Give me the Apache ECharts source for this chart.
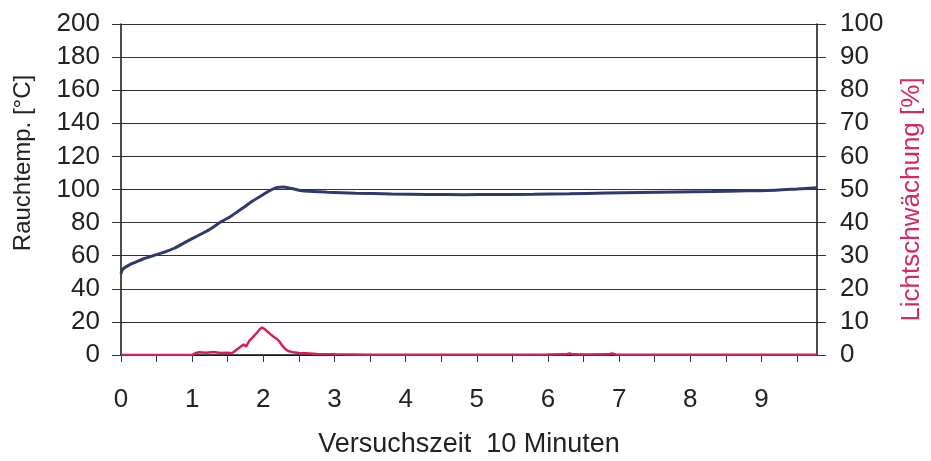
<!DOCTYPE html>
<html>
<head>
<meta charset="utf-8">
<script src="https://cdn.jsdelivr.net/npm/echarts@6/dist/echarts.min.js"></script>
<style>
html,body{margin:0;padding:0;background:#fff;}
#chart{width:931px;height:461px;}
</style>
</head>
<body>
<div id="chart"></div>
<script>
// Time axis (minutes)
const xTickValues = [0,0.5,1,1.5,2,2.5,3,3.5,4,4.5,5,5.5,6,6.5,7,7.5,8,8.5,9,9.5];
const xLabelValues = [0,1,2,3,4,5,6,7,8,9];

// Rauchtemp. [°C] (left axis)
const tempTime = [0,0.02,0.06,0.12,0.2,0.31,0.45,0.6,0.75,0.92,1.1,1.25,1.39,1.55,1.7,1.85,2.0,2.12,2.2,2.28,2.38,2.5,2.65,2.9,3.3,3.8,4.3,4.8,5.3,5.8,6.3,6.8,7.3,7.8,8.3,8.8,9.2,9.5,9.78];
const tempValues = [49,51.5,53,54.5,56,58,60,62,64.5,68.5,72.5,76,80,84,88.5,93,97,100,101.3,101.5,100.8,99.6,98.9,98.4,97.8,97.3,97,96.9,97,97.1,97.4,97.9,98.2,98.5,98.8,99.2,99.6,100.3,101];

// Lichtschwächung [%] (right axis)
const lightTime = [0,0.5,1.0,1.05,1.1,1.2,1.3,1.4,1.5,1.56,1.62,1.68,1.72,1.76,1.8,1.85,1.9,1.95,1.98,2.02,2.06,2.1,2.14,2.18,2.22,2.26,2.3,2.35,2.42,2.5,2.6,2.75,3.0,3.5,4.0,4.5,5.0,5.5,6.0,6.25,6.3,6.35,6.5,6.85,6.9,6.95,7.5,8.0,8.5,9.0,9.5,9.78];
const lightValues = [0,0,0,0.6,0.8,0.7,0.9,0.6,0.7,0.5,1.5,2.5,3.2,2.6,4.2,5.3,6.5,7.8,8.3,7.8,7.0,6.3,5.6,5.0,4.2,3.0,2.0,1.2,0.8,0.6,0.5,0.3,0.2,0.1,0.1,0.1,0.1,0.1,0.15,0.2,0.5,0.2,0.15,0.2,0.5,0.15,0.1,0.1,0.1,0.1,0.1,0.1];

const tempData = tempTime.map((t,i)=>[t,tempValues[i]]);
const lightData = lightTime.map((t,i)=>[t,lightValues[i]]);

const FONT = '"Liberation Sans", Arial, sans-serif';
const TXT = '#222';
const chart = echarts.init(document.getElementById('chart'), null, {renderer:'canvas'});
chart.setOption({
  animation:false,
  backgroundColor:'#fff',
  grid:{left:121,right:114,top:24,bottom:106,containLabel:false,outerBoundsMode:'none'},
  xAxis:{
    type:'value',min:0,max:9.78,interval:0.5,
    name:'Versuchszeit  10 Minuten',nameLocation:'middle',nameGap:76,
    nameTextStyle:{fontSize:27,color:TXT,fontFamily:FONT},
    axisLine:{show:true,onZero:false,lineStyle:{color:'#111',width:1.5}},
    axisTick:{show:true,length:7,customValues:xTickValues,lineStyle:{color:'#333',width:1}},
    axisLabel:{customValues:xLabelValues,fontSize:26,color:TXT,fontFamily:FONT,margin:32},
    splitLine:{show:false}
  },
  yAxis:[{
    type:'value',position:'left',min:0,max:200,interval:20,
    name:'Rauchtemp. [°C]',nameLocation:'middle',nameRotate:90,nameGap:86,
    nameTextStyle:{fontSize:24,color:TXT,fontFamily:FONT,padding:[0,0,0,53]},
    axisLine:{show:true,lineStyle:{color:'#111',width:1.5}},
    axisTick:{show:true,length:9,lineStyle:{color:'#333',width:1}},
    axisLabel:{fontSize:26,color:TXT,fontFamily:FONT,margin:21},
    splitLine:{show:true,lineStyle:{color:'#333',width:1.2}}
  },{
    type:'value',position:'right',min:0,max:100,interval:10,
    name:'Lichtschwächung [%]',nameLocation:'middle',nameRotate:90,nameGap:82,
    nameTextStyle:{fontSize:26,color:'#d42a63',fontFamily:FONT,padding:[0,20,0,0]},
    axisLine:{show:true,lineStyle:{color:'#111',width:1.5}},
    axisTick:{show:true,length:9,lineStyle:{color:'#333',width:1}},
    axisLabel:{fontSize:26,color:TXT,fontFamily:FONT,margin:23},
    splitLine:{show:false}
  }],
  series:[{
    name:'Lichtschwächung',type:'line',yAxisIndex:1,data:lightData,
    showSymbol:false,smooth:false,
    lineStyle:{color:'#d4205a',width:2.5},z:3
  },{
    name:'Rauchtemp.',type:'line',yAxisIndex:0,data:tempData,
    showSymbol:false,smooth:0.3,
    lineStyle:{color:'#2e3a6e',width:3},z:4
  }]
});
</script>
</body>
</html>
